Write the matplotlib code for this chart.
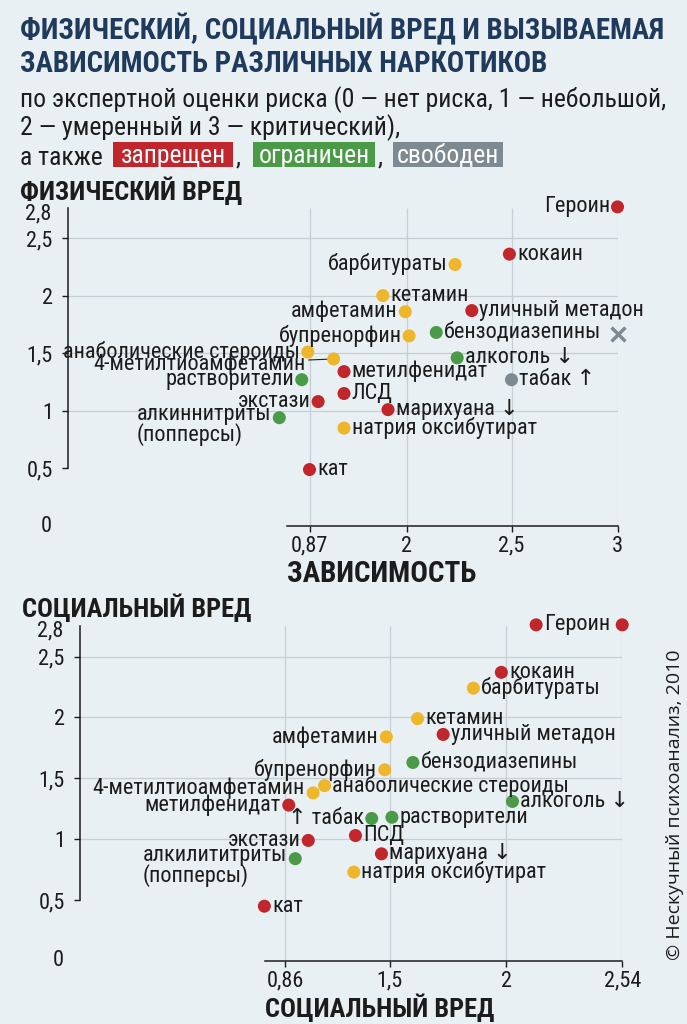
import numpy as np
import matplotlib
matplotlib.use('Agg')
import matplotlib.pyplot as plt
from matplotlib import font_manager
from matplotlib.patches import Rectangle

installed = {f.name for f in font_manager.fontManager.ttflist}
cands = ['Liberation Sans Narrow', 'DejaVu Sans Condensed', 'Noto Sans Condensed', 'Roboto Condensed', 'DejaVu Sans']
font = next(f for f in cands if f in installed)
plt.rcParams['font.family'] = [font, 'DejaVu Sans']

# ---- data: physical harm vs dependence
phys_names = ['Героин', 'кокаин', 'барбитураты', 'кетамин', 'амфетамин', 'уличный метадон',
              'бупренорфин', 'бензодиазепины', 'анаболические стероиды', '4-метилтиоамфетамин',
              'алкоголь ↓', 'метилфенидат', 'растворители', 'табак ↑', 'ЛСД', 'экстази',
              'марихуана ↓', 'алкиннитриты\n(попперсы)', 'натрия оксибутират', 'кат']
dependence = [3.00, 2.49, 2.23, 1.72, 1.98, 2.31, 2.01, 2.14, 0.85, 1.15,
              2.24, 1.27, 0.78, 2.50, 1.27, 0.97, 1.78, 0.52, 1.27, 0.87]
phys_harm = [2.77, 2.36, 2.27, 2.00, 1.86, 1.87, 1.65, 1.68, 1.51, 1.45,
             1.46, 1.34, 1.27, 1.27, 1.15, 1.08, 1.01, 0.94, 0.85, 0.49]
phys_status = ['ban', 'ban', 'rx', 'rx', 'rx', 'ban', 'rx', 'lim', 'rx', 'rx',
               'lim', 'ban', 'lim', 'free', 'ban', 'ban', 'ban', 'lim', 'rx', 'ban']
cross_dep, cross_phys = [3.00], [1.67]

# ---- data: social harm chart
soc_names = ['Героин', '', 'кокаин', 'барбитураты', 'кетамин', 'амфетамин', 'уличный метадон',
             'бензодиазепины', 'бупренорфин', 'анаболические стероиды', '4-метилтиоамфетамин',
             'алкоголь ↓', 'метилфенидат', '↑ табак', 'растворители', 'ПСД', 'экстази',
             'марихуана ↓', 'алкилититриты\n(попперсы)', 'натрия оксибутират', 'кат']
social_x = [2.14, 2.54, 1.98, 1.86, 1.62, 1.48, 1.73, 1.60, 1.47, 1.10, 1.03,
            2.03, 0.88, 1.39, 1.51, 1.29, 1.00, 1.45, 0.92, 1.28, 0.73]
social_y = [2.76, 2.76, 2.37, 2.24, 1.99, 1.84, 1.86, 1.63, 1.57, 1.44, 1.38,
            1.31, 1.28, 1.17, 1.18, 1.03, 0.99, 0.88, 0.84, 0.73, 0.45]
soc_status = ['ban', 'ban', 'ban', 'rx', 'rx', 'rx', 'ban', 'lim', 'rx', 'rx', 'rx',
              'lim', 'ban', 'lim', 'lim', 'ban', 'ban', 'ban', 'lim', 'rx', 'ban']

top_xticks = [0.87, 2, 2.5, 3]
top_xlabels = ['0,87', '2', '2,5', '3']
bot_xticks = [0.86, 1.5, 2, 2.54]
bot_xlabels = ['0,86', '1,5', '2', '2,54']
yticks = [0.5, 1, 1.5, 2, 2.5]
ylabels = ['0,5', '1', '1,5', '2', '2,5']
grid_y = [1, 1.5, 2, 2.5]

# ---- style
colors = {'ban': '#c0262c', 'rx': '#eeb72b', 'lim': '#4b9a48', 'free': '#7d8a91'}
bg = '#e9f0f3'
ink = '#1c1c1c'
navy = '#1f3a5d'
gridc = '#c6cfd4'
LBL = 16

phys_side = ['l', 'r', 'l', 'r', 'l', 'r', 'l', 'r', 'l', 'lead', 'r', 'r', 'l', 'r', 'r', 'l', 'r', 'l2', 'r', 'r']
soc_side = ['r', 'r', 'r', 'r', 'r', 'l', 'r', 'r', 'l', 'r', 'lu', 'r', 'l', 'l', 'r', 'r', 'l', 'r', 'l2', 'r', 'r']


def broken_scale(ticks, pos):
    t = np.asarray(ticks, float)
    p = np.asarray(pos, float)
    lo = (p[1] - p[0]) / (t[1] - t[0])
    hi = (p[-1] - p[-2]) / (t[-1] - t[-2])
    t = np.r_[t[0] - 10, t, t[-1] + 10]
    p = np.r_[p[0] - 10 * lo, p, p[-1] + 10 * hi]
    return (lambda v: np.interp(v, t, p)), (lambda q: np.interp(q, p, t))


fig = plt.figure(figsize=(6.87, 10.24), dpi=100, facecolor=bg)
W, H = 687, 1024


def px_axes(left, right, top, bottom):
    return fig.add_axes([left / W, 1 - bottom / H, (right - left) / W, (bottom - top) / H])


def panel(ax, xs, ys, names, status, sides, xt, xl, xpos, spine_left_px, ytop):
    fwd, inv = broken_scale(xt, xpos)
    ax.set_facecolor('none')
    ax.set_xscale('function', functions=(fwd, inv))
    left_px = ax.get_position().x0 * W
    ax.set_xlim(inv(left_px), xt[-1])
    ax.set_ylim(0, 2.8)
    for s in ['top', 'right']:
        ax.spines[s].set_visible(False)
    for s in ['left', 'bottom']:
        ax.spines[s].set_color(ink)
        ax.spines[s].set_linewidth(1.1)
    ax.spines['left'].set_bounds(0.5, ytop)
    ax.spines['bottom'].set_bounds(inv(spine_left_px), xt[-1])
    ax.set_xticks(xt, xl)
    ax.set_yticks(yticks, ylabels)
    ax.xaxis.set_minor_locator(matplotlib.ticker.NullLocator())
    ax.tick_params(axis='both', direction='out', length=4, width=1, color=ink,
                   labelsize=16, labelcolor=ink)
    ax.tick_params(axis='y', pad=7)
    ax.tick_params(axis='x', pad=3)
    ax.hlines(grid_y, ax.get_xlim()[0], xt[-1], color=gridc, lw=0.9, zorder=0)
    ax.vlines(xt, 0, ytop, color=gridc, lw=0.9, zorder=0)
    ax.annotate('2,8', xy=(0, 2.8), xycoords=ax.get_yaxis_transform(), xytext=(-12, 0),
                textcoords='offset points', ha='right', va='top', fontsize=16, color=ink)
    ax.annotate('0', xy=(0, 0), xycoords=ax.get_yaxis_transform(), xytext=(-12, 0),
                textcoords='offset points', ha='right', va='center', fontsize=16, color=ink)
    ax.scatter(xs, ys, s=88, c=[colors[k] for k in status], linewidths=0, zorder=3, clip_on=False)
    for x, y, name, side in zip(xs, ys, names, sides):
        if not name:
            continue
        if side == 'r':
            ax.annotate(name, (x, y), xytext=(5.5, 0), textcoords='offset points',
                        ha='left', va='center', fontsize=LBL, color=ink)
        elif side == 'l':
            ax.annotate(name, (x, y), xytext=(-5.5, 0), textcoords='offset points',
                        ha='right', va='center', fontsize=LBL, color=ink)
        elif side == 'lu':
            ax.annotate(name, (x, y), xytext=(-6, 3), textcoords='offset points',
                        ha='right', va='center', fontsize=LBL, color=ink)
        elif side == 'l2':
            ax.annotate(name, (x, y), xytext=(-6, 10), textcoords='offset points',
                        ha='right', va='top', multialignment='left', fontsize=LBL,
                        color=ink, linespacing=0.9)
        elif side == 'lead':
            ax.annotate(name, (x, y), xytext=(-20, -4), textcoords='offset points',
                        ha='right', va='center', fontsize=LBL, color=ink,
                        arrowprops=dict(arrowstyle='-', color=ink, lw=0.8, shrinkA=0, shrinkB=5))


# top panel
ax1 = px_axes(68, 617.5, 526 - 2.8 * 115.2, 526)
panel(ax1, dependence, phys_harm, phys_names, phys_status, phys_side,
      top_xticks, top_xlabels, [309.5, 407, 511.5, 617.5], 287, 2.76)
ax1.scatter(cross_dep, cross_phys, marker='x', s=100, color=colors['free'], linewidths=2.5,
            zorder=3, clip_on=False)

# bottom panel
ax2 = px_axes(80, 622.2, 961 - 2.8 * 121.8, 961)
panel(ax2, social_x, social_y, soc_names, soc_status, soc_side,
      bot_xticks, bot_xlabels, [285.5, 389.6, 506, 622.2], 265, 2.75)


def ftext(x, y, s, **kw):
    return fig.text(x / W, 1 - y / H, s, **kw)


ftext(20, 39, 'ФИЗИЧЕСКИЙ, СОЦИАЛЬНЫЙ ВРЕД И ВЫЗЫВАЕМАЯ', fontsize=20.8, weight='bold', color=navy)
ftext(20, 72, 'ЗАВИСИМОСТЬ РАЗЛИЧНЫХ НАРКОТИКОВ', fontsize=20.8, weight='bold', color=navy)
ftext(20, 107, 'по экспертной оценки риска (0 — нет риска, 1 — небольшой,', fontsize=18.5, color=ink)
ftext(20, 135, '2 — умеренный и 3 — критический),', fontsize=18.5, color=ink)
ftext(20, 165, 'а также', fontsize=18.5, color=ink)

chips = [('запрещен', colors['ban'], 113, 233), ('ограничен', colors['lim'], 253, 375),
         ('свободен', colors['free'], 393, 503)]
for i, (txt, col, x0, x1) in enumerate(chips):
    fig.add_artist(Rectangle((x0 / W, 1 - 167 / H), (x1 - x0) / W, 25 / H,
                             transform=fig.transFigure, facecolor=col, edgecolor='none'))
    ftext((x0 + x1) / 2, 163, txt, fontsize=18.5, color='white', ha='center')
    if i < 2:
        ftext(x1 + 3, 165, ',', fontsize=18.5, color=ink)

ftext(20, 200, 'ФИЗИЧЕСКИЙ ВРЕД', fontsize=19, weight='bold', color=ink)
ftext(287, 582, 'ЗАВИСИМОСТЬ', fontsize=21, weight='bold', color=ink)
ftext(22, 617, 'СОЦИАЛЬНЫЙ ВРЕД', fontsize=19, weight='bold', color=ink)
ftext(265, 1017, 'СОЦИАЛЬНЫЙ ВРЕД', fontsize=19, weight='bold', color=ink)
ftext(675, 805, '© Нескучный психоанализ, 2010', rotation=90, ha='center', va='center',
      fontsize=14, color=ink, family=['Open Sans', 'DejaVu Sans'])

fig.savefig('out.png', dpi=100, facecolor=bg)
